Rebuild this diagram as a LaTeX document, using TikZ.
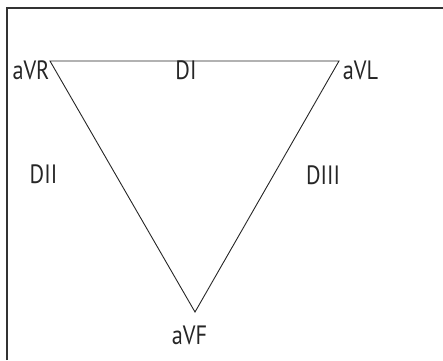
\documentclass[tikz,border=0pt]{standalone}
\usepackage{fontspec}
\usepackage{graphicx}
\setmainfont{PT Sans}
\newcommand{\narrowtxt}[1]{\scalebox{0.84}[1]{#1}}
\begin{document}
\begin{tikzpicture}[x=1pt,y=-1pt,
  lbl/.style={font=\fontsize{26.5}{26.5}\selectfont, inner sep=0pt, text=black!85},
  edge/.style={draw=black!85, line width=0.9pt, line join=miter},
  frame/.style={draw=black!80, line width=2pt}]
\useasboundingbox (0,0) rectangle (443,360);
\draw[frame] (6.5,360) -- (6.5,7.5) -- (443,7.5);
\coordinate (R) at (50,61);
\coordinate (L) at (339,61);
\coordinate (F) at (195,312);
\draw[edge] (R) -- (L) -- (F) -- cycle;
\node[lbl] (avr) at (31,70.5) {\narrowtxt{aVR}};
\node[lbl] (avl) at (360.5,70.5) {\narrowtxt{aVL}};
\node[lbl] (avf) at (189.5,335) {\narrowtxt{aVF}};
\node[lbl] (d1) at (186,70) {\narrowtxt{DI}};
\node[lbl] (d2) at (43.5,174) {\narrowtxt{DII}};
\node[lbl] (d3) at (323,175) {\narrowtxt{DIII}};
\end{tikzpicture}
\end{document}
